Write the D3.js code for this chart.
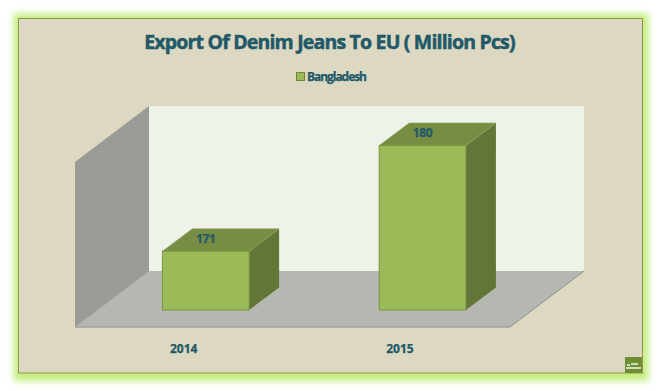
<!DOCTYPE html>
<html>
<head>
<meta charset="utf-8">
<script src="https://cdnjs.cloudflare.com/ajax/libs/d3/7.8.5/d3.min.js"></script>
<style>
html,body{margin:0;padding:0;background:#fff;}
svg{display:block;}
text{font-family:"Open Sans","Noto Sans",sans-serif;font-weight:700;fill:#215968;stroke:#215968;stroke-width:0.25px;}
</style>
</head>
<body>
<script>
const chartTitle = "Export Of Denim Jeans To EU ( Million Pcs)";
const seriesName = "Bangladesh";
const categories = ["2014", "2015"];
const seriesValues = [171, 180];
const axisRange = [166, 180];

const W = 660, H = 391;
const svg = d3.select("body").append("svg").attr("width", W).attr("height", H);
const defs = svg.append("defs");
const glow = defs.append("filter").attr("id","glow").attr("x","-10%").attr("y","-10%").attr("width","120%").attr("height","120%");
glow.append("feGaussianBlur").attr("stdDeviation",3);

// Frame
const frame = {x:18.5,y:18.5,w:624,h:354.5};
svg.append("rect").attr("x",frame.x-5).attr("y",frame.y-5).attr("width",frame.w+11).attr("height",frame.h+13)
  .attr("fill","#c4ee80").attr("filter","url(#glow)");
svg.append("rect").attr("x",frame.x).attr("y",frame.y).attr("width",frame.w).attr("height",frame.h)
  .attr("fill","#ddd8c2").attr("stroke","#98904f").attr("stroke-width",1);

// 3D geometry
const wallDepth = {dx:74, dy:-56};
const barDepth = {dx:30, dy:-22.5};
const floorFront = {x0:75, x1:510, y:327};

// Scales
const xBar = d3.scaleBand().domain(categories).range([97.35,530.95]).paddingInner(0.6).paddingOuter(0.3);
const y = d3.scaleLinear().domain(axisRange).range([310,145.5]);
const xAxisScale = d3.scaleBand().domain(categories).range([75.5,508.1]);
const wallHeight = 165;

const poly = pts => "M"+pts.map(p=>p.join(",")).join("L")+"Z";
const fx0=floorFront.x0, fx1=floorFront.x1, fy=floorFront.y, wt=fy-wallHeight;
const d=wallDepth;

// Back wall
svg.append("path").attr("d",poly([[fx0+d.dx,wt+d.dy],[fx1+d.dx,wt+d.dy],[fx1+d.dx,fy+d.dy],[fx0+d.dx,fy+d.dy]])).attr("fill","#eef3ea");
// Side wall
svg.append("path").attr("d",poly([[fx0,wt],[fx0+d.dx,wt+d.dy],[fx0+d.dx,fy+d.dy],[fx0,fy]])).attr("fill","#999b94");
// Floor
svg.append("path").attr("d",poly([[fx0,fy],[fx0+d.dx,fy+d.dy],[fx1+d.dx,fy+d.dy],[fx1,fy]])).attr("fill","#b5b7b1");
svg.append("path").attr("d",`M${fx0},${fy}L${fx1},${fy}`).attr("stroke","#a0a19c").attr("stroke-width",1.5).attr("fill","none");
svg.append("path").attr("d",`M${fx1},${fy}L${fx1+d.dx},${fy+d.dy}`).attr("stroke","#8f908c").attr("stroke-width",1).attr("fill","none");
svg.append("path").attr("d",`M${fx0},${fy}L${fx0+d.dx},${fy+d.dy}`).attr("stroke","#a3a49f").attr("stroke-width",1).attr("fill","none");

// Bars
const data = categories.map((c,i)=>({c,v:seriesValues[i]}));
const bd = barDepth;
const bars = svg.append("g").selectAll("g").data(data).join("g");
bars.append("path").attr("d",e=>{const x=xBar(e.c)+xBar.bandwidth(),t=y(e.v),b=y(axisRange[0]);
    return poly([[x,t],[x+bd.dx,t+bd.dy],[x+bd.dx,b+bd.dy],[x,b]]);})
  .attr("fill","#647637");
bars.append("path").attr("d",e=>{const x=xBar(e.c),w=xBar.bandwidth(),t=y(e.v);
    return poly([[x,t],[x+bd.dx,t+bd.dy],[x+w+bd.dx,t+bd.dy],[x+w,t]]);})
  .attr("fill","#778d43").attr("stroke","#8fa45c").attr("stroke-width",0.6);
bars.append("rect").attr("x",e=>xBar(e.c)).attr("y",e=>y(e.v))
  .attr("width",xBar.bandwidth()).attr("height",e=>y(axisRange[0])-y(e.v))
  .attr("fill","#9bbb59").attr("stroke","#7a9442").attr("stroke-width",1);
bars.append("text").attr("x",e=>xBar(e.c)+xBar.bandwidth()/2).attr("y",e=>y(e.v)+bd.dy/2+2.5)
  .attr("text-anchor","middle").attr("font-size",12).style("letter-spacing","-0.3px").text(e=>e.v);

// Axis
const axis = svg.append("g").attr("transform",`translate(0,${fy})`).call(d3.axisBottom(xAxisScale).tickSize(0).tickPadding(17));
axis.select(".domain").remove();
axis.selectAll("text").attr("font-size",12).style("font-family",'"Open Sans","Noto Sans",sans-serif').style("font-weight",700).attr("fill","#215968");

// Title & legend
svg.append("text").attr("x",329.5).attr("y",48.5).attr("text-anchor","middle").attr("font-size",19.5)
  .style("stroke-width","0.5px").style("letter-spacing","-0.82px").text(chartTitle);
svg.append("rect").attr("x",296.5).attr("y",72.5).attr("width",8).attr("height",8).attr("fill","#9bbb59").attr("stroke","#6a8a32").attr("stroke-width",1);
svg.append("text").attr("x",307).attr("y",81).attr("font-size",12).style("letter-spacing","-1.05px").text(seriesName);

// Corner logo mark
svg.append("rect").attr("x",625).attr("y",357).attr("width",17).attr("height",16).attr("fill","#6f8f35");
svg.append("path").attr("d","M627,365h3M631,364h7M626,368h15").attr("stroke","#cfdcb5").attr("stroke-width",1.8).attr("fill","none");
</script>
</body>
</html>
